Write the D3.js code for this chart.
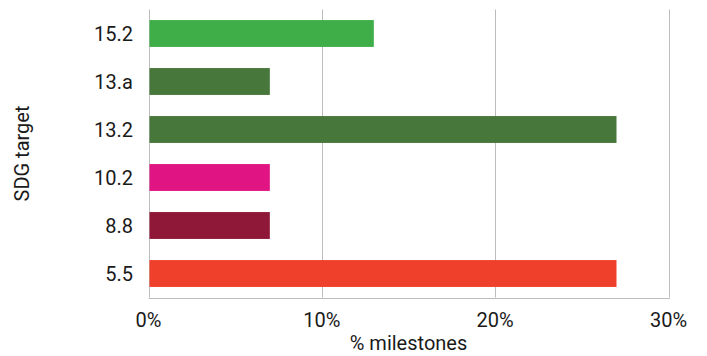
<!DOCTYPE html>
<html><head><meta charset="utf-8">
<script src="https://cdn.jsdelivr.net/npm/d3@7"></script>
<style>
html,body{margin:0;padding:0;background:#fff;}
text{font-family:Roboto,"Liberation Sans",sans-serif;fill:#1a1a1a;}
</style></head>
<body>
<svg id="chart" width="707" height="356"></svg>
<script>
const categories = ["15.2","13.a","13.2","10.2","8.8","5.5"];
const values = [13, 7, 27, 7, 7, 27];
const colors = ["#3fae49","#48773c","#48773c","#e01483","#8f1838","#ef402b"];
const xTicks = [0, 10, 20, 30];
const xLabel = "% milestones";
const yLabel = "SDG target";

const svg = d3.select("#chart");
const m = {left:148.5, right:668.5, top:9.5, bottom:297.5};

const x = d3.scaleLinear().domain([0,30]).range([m.left, m.right]);
const y = d3.scaleBand().domain(categories).range([m.top, m.bottom]).paddingInner(0.44).paddingOuter(0.22);

// gridlines
svg.append("g").selectAll("line").data(xTicks).join("line")
  .attr("x1", d => Math.round(x(d))+0.5).attr("x2", d => Math.round(x(d))+0.5)
  .attr("y1", m.top).attr("y2", m.bottom)
  .attr("stroke", "#bdbdbd").attr("stroke-width", 1);

// bottom axis line
svg.append("line")
  .attr("x1", x(0)).attr("x2", Math.round(x(30))+1)
  .attr("y1", Math.round(m.bottom)+0.5).attr("y2", Math.round(m.bottom)+0.5)
  .attr("stroke", "#bdbdbd").attr("stroke-width", 1);

// bars
svg.append("g").selectAll("rect").data(categories).join("rect")
  .attr("x", x(0)+1)
  .attr("y", d => y(d))
  .attr("width", (d,i) => x(values[i]) - x(0) - 1)
  .attr("height", y.bandwidth())
  .attr("fill", (d,i) => colors[i]);

// y tick labels
svg.append("g").selectAll("text").data(categories).join("text")
  .attr("x", 133)
  .attr("y", d => y(d) + y.bandwidth()/2)
  .attr("dy", "0.35em")
  .attr("text-anchor", "end")
  .attr("font-size", 20)
  .text(d => d);

// x tick labels
svg.append("g").selectAll("text").data(xTicks).join("text")
  .attr("x", d => x(d))
  .attr("y", 327)
  .attr("text-anchor", "middle")
  .attr("font-size", 20)
  .text(d => d + "%");

// axis titles
svg.append("text")
  .attr("x", (m.left + m.right)/2)
  .attr("y", 350)
  .attr("text-anchor", "middle")
  .attr("font-size", 20)
  .text(xLabel);

svg.append("text")
  .attr("transform", `translate(29,${(m.top+m.bottom)/2}) rotate(-90)`)
  .attr("text-anchor", "middle")
  .attr("font-size", 20)
  .text(yLabel);
</script>
</body></html>
